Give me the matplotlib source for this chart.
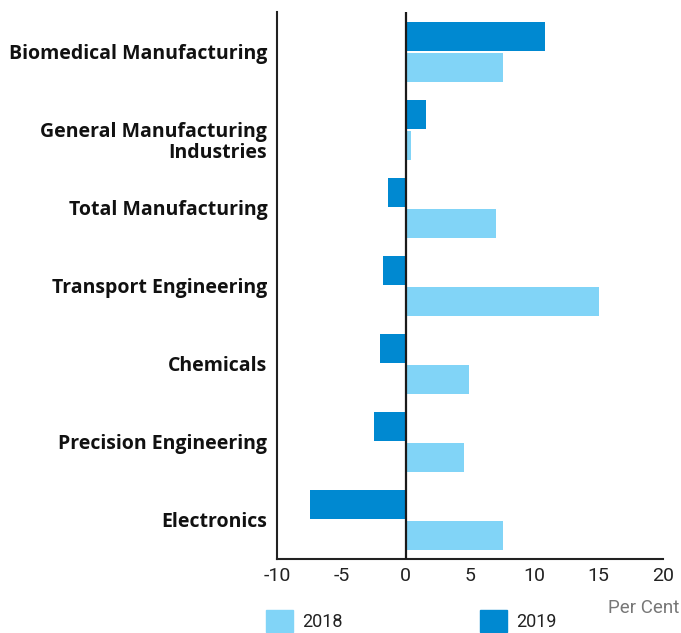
import numpy as np
import matplotlib.pyplot as plt
from matplotlib.patches import Patch

# data (per cent)
industries = ['Biomedical Manufacturing', 'General Manufacturing\nIndustries', 'Total Manufacturing',
              'Transport Engineering', 'Chemicals', 'Precision Engineering', 'Electronics']
growth_2018 = [7.6, 0.4, 7.0, 15.0, 4.9, 4.5, 7.6]
growth_2019 = [10.8, 1.6, -1.4, -1.8, -2.0, -2.5, -7.4]
xticks = [-10, -5, 0, 5, 10, 15, 20]

c2018 = '#81d4f7'
c2019 = '#0089d1'

plt.rcParams['font.family'] = ['Roboto', 'DejaVu Sans']

fig = plt.figure(figsize=(6.81, 6.33), dpi=100)
ax = fig.add_axes([0.4068, 0.117, 0.5668, 0.864])

y = np.arange(len(industries))
h = 0.37
ax.barh(y - 0.2, growth_2019, height=h, color=c2019, zorder=2)
ax.barh(y + 0.2, growth_2018, height=h, color=c2018, zorder=2)
ax.axvline(0, color='#1a1a1a', lw=1.6, zorder=3)

ax.set_xlim(-10, 20)
ax.set_ylim(6.5, -0.51)
ax.set_xticks(xticks)
ax.set_xticklabels([str(t) for t in xticks], fontsize=14, color='#222222')
ax.set_yticks(y)
ax.set_yticklabels([])
ax.tick_params(axis='both', length=0)
ax.tick_params(axis='x', pad=6)

# category labels, first line centred on the category, the rest below it
for yi, name in zip(y, industries):
    for k, line in enumerate(name.split('\n')):
        ax.annotate(line, xy=(0, yi), xycoords=ax.get_yaxis_transform(),
                    xytext=(-7, -15.2 * k), textcoords='offset points',
                    ha='right', va='center_baseline', fontsize=14,
                    fontweight='bold', family=['Open Sans', 'DejaVu Sans'],
                    color='#111111')

for s in ['top', 'right']:
    ax.spines[s].set_visible(False)
for s in ['left', 'bottom']:
    ax.spines[s].set_linewidth(1.5)
    ax.spines[s].set_color('#222222')

handles = [Patch(color=c2018), Patch(color=c2019)]
fig.legend(handles, ['2018', '2019'], ncol=2, loc='lower left',
           bbox_to_anchor=(0.377, -0.012), frameon=False, fontsize=13,
           handlelength=1.5, handleheight=1.5, handletextpad=0.5,
           columnspacing=7.6, borderpad=0, labelcolor='#222222')

fig.text(0.997, 0.039, 'Per Cent', ha='right', va='center', fontsize=13.5, color='#777777')

fig.savefig('out.png', dpi=100)
